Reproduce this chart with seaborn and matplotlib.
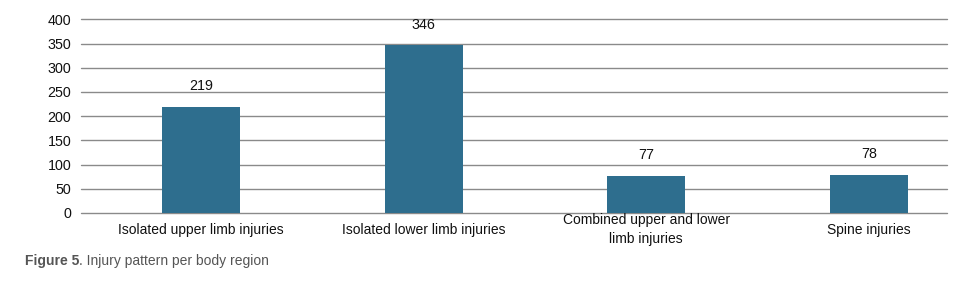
import matplotlib
matplotlib.use("Agg")
import matplotlib.pyplot as plt
import seaborn as sns
import pandas as pd

categories = ["Isolated upper limb injuries", "Isolated lower limb injuries",
              "Combined upper and lower\nlimb injuries", "Spine injuries"]
counts = [219, 346, 77, 78]
y_ticks = [0, 50, 100, 150, 200, 250, 300, 350, 400]

sns.set_theme(style="white")
plt.rcParams['font.family'] = ['Liberation Sans', 'DejaVu Sans']

df = pd.DataFrame({"region": categories, "count": counts})

fig = plt.figure(figsize=(9.72, 2.94), dpi=100)
ax = fig.add_axes([81/972, 81/294, (947-81)/972, (213-19.3)/294])

sns.barplot(data=df, x="region", y="count", color="#2E6E8E", saturation=1,
            width=0.35, ax=ax, zorder=3, linewidth=0, edgecolor="none")

ax.set_ylim(0, 400)
ax.set_yticks(y_ticks)
ax.set_xlim(-0.539, 3.351)
for t in y_ticks:
    ax.axhline(t, color="#8a8a8a", linewidth=1.0, zorder=0, clip_on=False)
ax.grid(False)
for s in ax.spines.values():
    s.set_visible(False)
ax.set_xlabel("")
ax.set_ylabel("")
ax.tick_params(axis="y", length=0, pad=7, labelsize=10.3, labelcolor="#111111")
ax.tick_params(axis="x", length=0, pad=12, labelsize=10, labelcolor="#111111")
for lbl in ax.get_xticklabels():
    lbl.set_va("center")
    lbl.set_multialignment("center")
    lbl.set_linespacing(1.45)

for i, v in enumerate(counts):
    ax.annotate(str(v), xy=(i, v), xytext=(0, 15), textcoords="offset points",
                ha="center", va="center", fontsize=10.3, color="#111111")

t1 = fig.text(25/972, 1 - 261/294, "Figure 5", fontsize=10, fontweight="bold",
              color="#555555", va="center", ha="left")
fig.canvas.draw()
bb = t1.get_window_extent(renderer=fig.canvas.get_renderer())
fig.text(bb.x1 / fig.bbox.width, 1 - 261/294, ". Injury pattern per body region",
         fontsize=10, color="#555555", va="center", ha="left")

fig.savefig("out.png", dpi=100)
